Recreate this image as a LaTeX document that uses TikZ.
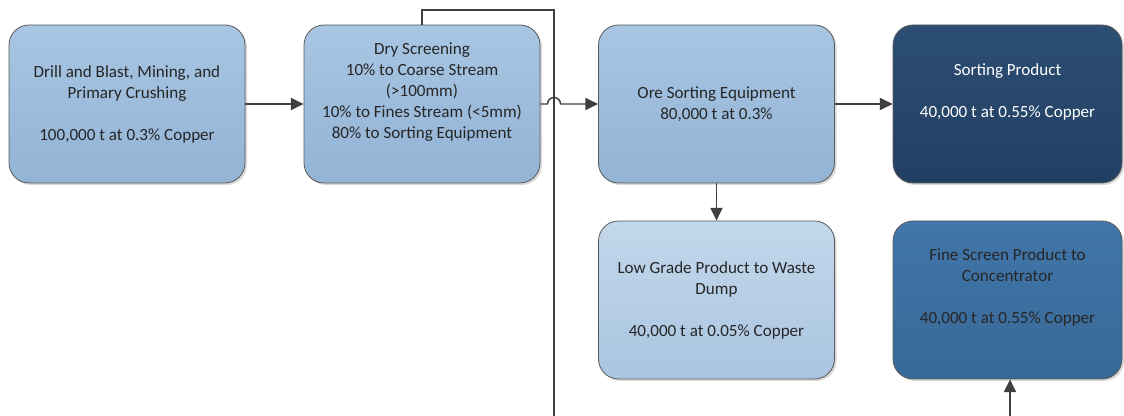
\documentclass[tikz,border=0pt]{standalone}
\usepackage{fontspec}
\setmainfont{Carlito}
\usetikzlibrary{arrows.meta,shadows}
\definecolor{edgegray}{HTML}{5A5A5A}
\definecolor{linegray}{HTML}{3F3F3F}
\definecolor{paletop}{HTML}{A8C6E3}
\definecolor{palebot}{HTML}{93B3D5}
\definecolor{lighttop}{HTML}{C3D7EB}
\definecolor{lightbot}{HTML}{AAC5E1}
\definecolor{navytop}{HTML}{2C4E73}
\definecolor{navybot}{HTML}{213F62}
\definecolor{midtop}{HTML}{4176AA}
\definecolor{midbot}{HTML}{386896}
\begin{document}
\begin{tikzpicture}[x=0.75pt,y=-0.75pt,
  box/.style={draw=edgegray,line width=0.6pt,rounded corners=15pt,
    minimum width=177pt,minimum height=118.5pt,align=center,
    font=\fontsize{12.8}{15.75}\selectfont,text=black!85,
    drop shadow={opacity=0.3,shadow xshift=1.5pt,shadow yshift=-1.5pt}},
  palebox/.style={box,top color=paletop,bottom color=palebot},
  lightbox/.style={box,top color=lighttop,bottom color=lightbot},
  navybox/.style={box,minimum width=171.75pt,top color=navytop,bottom color=navybot,text=white},
  midbox/.style={box,minimum width=171.75pt,top color=midtop,bottom color=midbot},
  flow/.style={draw=linegray,line width=1.1pt},
  arrow/.style={flow,-{Triangle[length=9.5pt,width=9pt]}}]
  \useasboundingbox (0,0) rectangle (1124,416);
  % top row
  \node[palebox] (mine) at (127,104) {Drill and Blast, Mining, and\\Primary Crushing\\[15.75pt]100,000 t at 0.3\% Copper};
  \node[palebox] (screen) at (422,104) {Dry Screening\\10\% to Coarse Stream\\(>100mm)\\10\% to Fines Stream (<5mm)\\80\% to Sorting Equipment\\\strut};
  \node[palebox] (sorter) at (716.5,104) {Ore Sorting Equipment\\80,000 t at 0.3\%};
  \node[navybox] (product) at (1007.5,104) {Sorting Product\\[15.75pt]40,000 t at 0.55\% Copper\\\strut};
  % bottom row
  \node[lightbox] (waste) at (716.5,300) {Low Grade Product to Waste\\Dump\\[15.75pt]40,000 t at 0.05\% Copper};
  \node[midbox] (fines) at (1007.5,300) {Fine Screen Product to\\Concentrator\\[15.75pt]40,000 t at 0.55\% Copper\\\strut};
  % coarse stream line and fines feed
  \coordinate (coarseTurn) at (554,10);
  \coordinate (coarseEnd) at (554,416);
  \coordinate (hopIn) at (547.5,104);
  \coordinate (finesIn) at (1010,416);
  \draw[flow] (screen.north) |- (coarseTurn) -- (coarseEnd);
  \draw[arrow] (mine) -- (screen);
  \draw[arrow] (screen.east) -- (hopIn) arc (180:360:6.5) -- (sorter.west);
  \draw[arrow] (sorter) -- (product);
  \draw[arrow] (sorter) -- (waste);
  \draw[arrow] (finesIn) -- (finesIn |- fines.south);
\end{tikzpicture}
\end{document}
